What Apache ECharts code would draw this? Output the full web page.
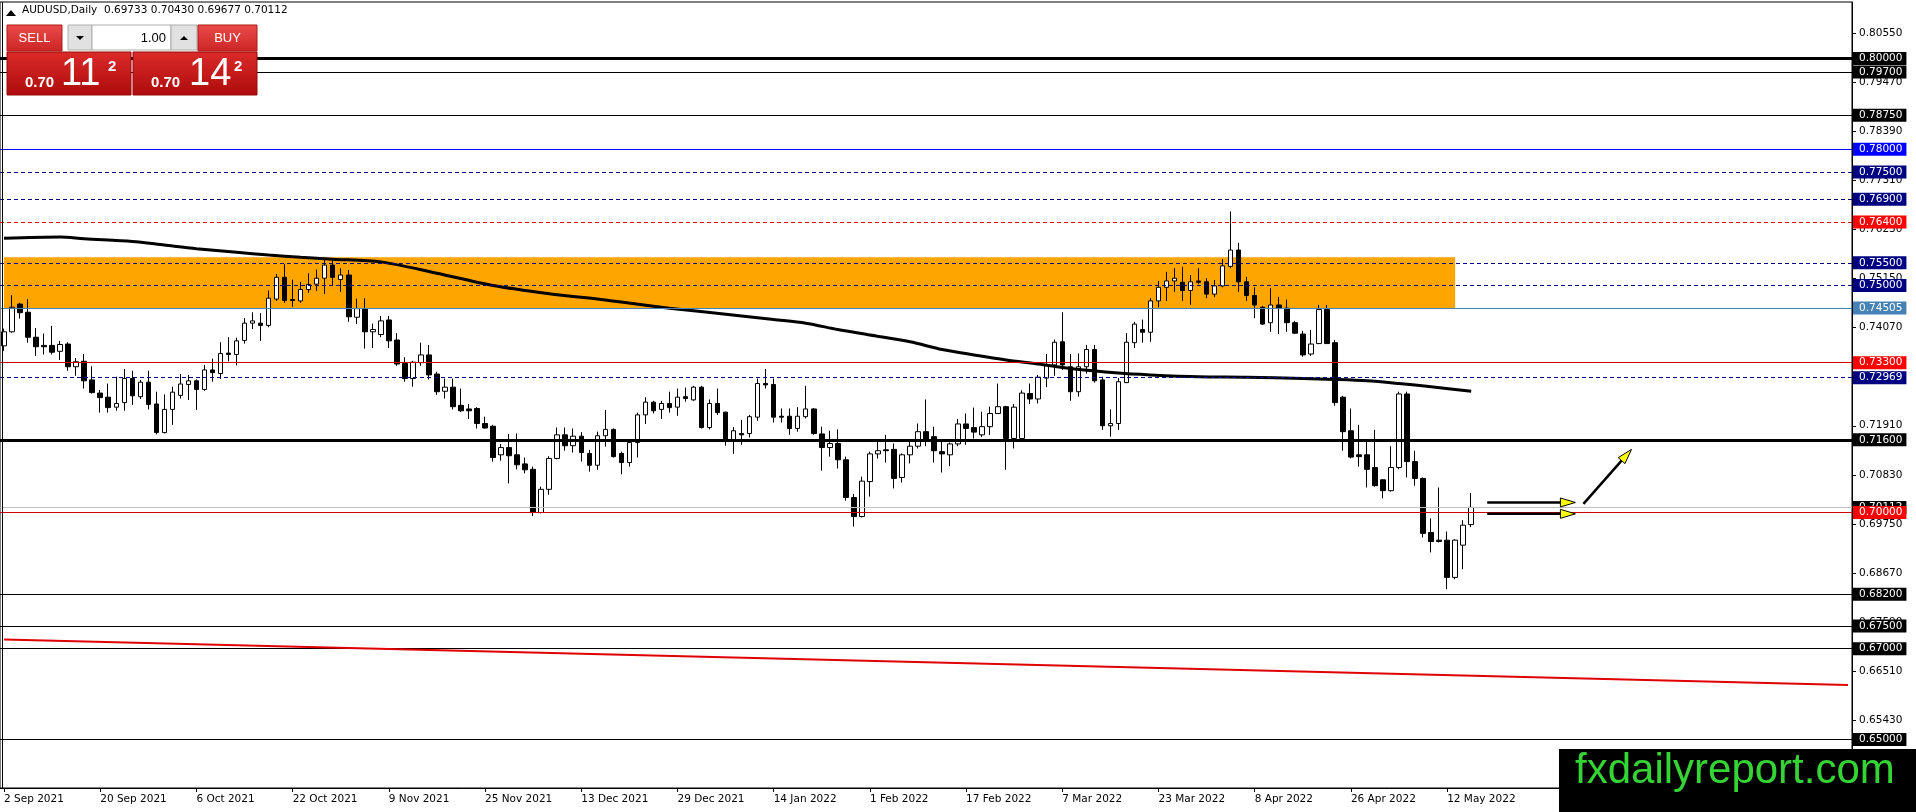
<!DOCTYPE html>
<html>
<head>
<meta charset="utf-8">
<title>AUDUSD Daily</title>
<script src="https://cdn.jsdelivr.net/npm/echarts@6/dist/echarts.min.js"></script>
<style>
  html, body { margin: 0; padding: 0; background: #fff; }
  #chart { width: 1916px; height: 812px; }
</style>
</head>
<body>
<div id="chart"></div>
<script>
// daily bars, 2 Sep 2021 .. 17 May 2022
const opens = [
  0.7367, 0.7398, 0.7459, 0.7441, 0.7386, 0.7368, 0.7368, 0.7355, 0.7371, 0.7321,
  0.7333, 0.7292, 0.7263, 0.7254, 0.7232, 0.7242, 0.7295, 0.7255, 0.7287, 0.7239,
  0.7176, 0.7227, 0.7258, 0.7282, 0.7290, 0.7271, 0.7314, 0.7306, 0.7351, 0.7348,
  0.7379, 0.7417, 0.7417, 0.7412, 0.7470, 0.7518, 0.7469, 0.7466, 0.7491, 0.7503,
  0.7516, 0.7545, 0.7513, 0.7523, 0.7430, 0.7449, 0.7398, 0.7392, 0.7424, 0.7380,
  0.7328, 0.7295, 0.7330, 0.7347, 0.7305, 0.7267, 0.7276, 0.7236, 0.7228, 0.7229,
  0.7196, 0.7190, 0.7127, 0.7143, 0.7127, 0.7107, 0.7095, 0.7000, 0.7051, 0.7119,
  0.7171, 0.7147, 0.7168, 0.7130, 0.7104, 0.7169, 0.7183, 0.7130, 0.7110, 0.7154,
  0.7215, 0.7243, 0.7227, 0.7240, 0.7232, 0.7255, 0.7248, 0.7276, 0.7187, 0.7240,
  0.7221, 0.7160, 0.7174, 0.7174, 0.7210, 0.7284, 0.7282, 0.7212, 0.7212, 0.7185,
  0.7211, 0.7228, 0.7173, 0.7143, 0.7152, 0.7116, 0.7033, 0.6991, 0.7068, 0.7129,
  0.7138, 0.7139, 0.7077, 0.7127, 0.7146, 0.7178, 0.7167, 0.7134, 0.7127, 0.7151,
  0.7195, 0.7187, 0.7171, 0.7189, 0.7218, 0.7233, 0.7163, 0.7163, 0.7262, 0.7250,
  0.7296, 0.7325, 0.7376, 0.7321, 0.7266, 0.7321, 0.7359, 0.7292, 0.7191, 0.7196,
  0.7286, 0.7374, 0.7403, 0.7397, 0.7466, 0.7496, 0.7510, 0.7507, 0.7489, 0.7510,
  0.7508, 0.7481, 0.7499, 0.7542, 0.7578, 0.7508, 0.7478, 0.7452, 0.7418, 0.7457,
  0.7450, 0.7418, 0.7393, 0.7349, 0.7372, 0.7447, 0.7374, 0.7254, 0.7180, 0.7127,
  0.7127, 0.7099, 0.7072, 0.7048, 0.7099, 0.7261, 0.7112, 0.7075, 0.6956, 0.6939,
  0.6939, 0.6857, 0.6928, 0.69733
];
const highs = [
  0.7405, 0.7479, 0.7462, 0.7470, 0.7406, 0.7394, 0.7411, 0.7378, 0.7375, 0.7340,
  0.7349, 0.7322, 0.7270, 0.7284, 0.7299, 0.7316, 0.7312, 0.7292, 0.7312, 0.7266,
  0.7260, 0.7277, 0.7305, 0.7303, 0.7293, 0.7325, 0.7339, 0.7375, 0.7386, 0.7385,
  0.7428, 0.7441, 0.7439, 0.7489, 0.7525, 0.7547, 0.7513, 0.7508, 0.7527, 0.7535,
  0.7556, 0.7556, 0.7538, 0.7534, 0.7471, 0.7472, 0.7416, 0.7433, 0.7433, 0.7395,
  0.7342, 0.7334, 0.7374, 0.7369, 0.7310, 0.7295, 0.7295, 0.7273, 0.7239, 0.7232,
  0.7211, 0.7193, 0.7151, 0.7173, 0.7174, 0.7121, 0.7101, 0.7057, 0.7124, 0.7187,
  0.7187, 0.7185, 0.7177, 0.7138, 0.7178, 0.7226, 0.7185, 0.7134, 0.7160, 0.7220,
  0.7254, 0.7246, 0.7246, 0.7266, 0.7273, 0.7275, 0.7279, 0.7279, 0.7249, 0.7273,
  0.7222, 0.7188, 0.7204, 0.7215, 0.7295, 0.7316, 0.7295, 0.7229, 0.7229, 0.7232,
  0.7279, 0.7230, 0.7189, 0.7180, 0.7183, 0.7123, 0.7041, 0.7079, 0.7134, 0.7156,
  0.7171, 0.7152, 0.7130, 0.7156, 0.7196, 0.7249, 0.7189, 0.7156, 0.7154, 0.7206,
  0.7218, 0.7231, 0.7222, 0.7233, 0.7284, 0.7235, 0.7239, 0.7269, 0.7284, 0.7303,
  0.7349, 0.7381, 0.7441, 0.7349, 0.7350, 0.7369, 0.7369, 0.7299, 0.7227, 0.7296,
  0.7395, 0.7420, 0.7425, 0.7472, 0.7510, 0.7530, 0.7538, 0.7541, 0.7523, 0.7538,
  0.7516, 0.7512, 0.7558, 0.7663, 0.7594, 0.7519, 0.7496, 0.7455, 0.7494, 0.7475,
  0.7469, 0.7422, 0.7400, 0.7402, 0.7457, 0.7457, 0.7380, 0.7257, 0.7229, 0.7193,
  0.7156, 0.7182, 0.7073, 0.7146, 0.7266, 0.7266, 0.7136, 0.7077, 0.6987, 0.7055,
  0.6958, 0.6941, 0.6983, 0.70430
];
const lows = [
  0.7356, 0.7396, 0.7427, 0.7374, 0.7345, 0.7348, 0.7348, 0.7336, 0.7312, 0.7301,
  0.7273, 0.7262, 0.7220, 0.7220, 0.7224, 0.7224, 0.7237, 0.7250, 0.7227, 0.7172,
  0.7174, 0.7193, 0.7251, 0.7248, 0.7226, 0.7268, 0.7288, 0.7294, 0.7333, 0.7324,
  0.7372, 0.7404, 0.7378, 0.7408, 0.7466, 0.7462, 0.7453, 0.7462, 0.7484, 0.7488,
  0.7481, 0.7499, 0.7486, 0.7420, 0.7415, 0.7361, 0.7362, 0.7386, 0.7362, 0.7323,
  0.7288, 0.7277, 0.7323, 0.7293, 0.7259, 0.7251, 0.7227, 0.7221, 0.7206, 0.7185,
  0.7185, 0.7112, 0.7114, 0.7064, 0.7095, 0.7086, 0.6992, 0.6998, 0.7039, 0.7117,
  0.7136, 0.7132, 0.7112, 0.7090, 0.7094, 0.7145, 0.7121, 0.7084, 0.7101, 0.7121,
  0.7195, 0.7218, 0.7206, 0.7220, 0.7213, 0.7244, 0.7246, 0.7185, 0.7183, 0.7215,
  0.7147, 0.7129, 0.7149, 0.7165, 0.7202, 0.7273, 0.7198, 0.7198, 0.7171, 0.7178,
  0.7207, 0.7171, 0.7092, 0.7123, 0.7097, 0.7026, 0.6969, 0.6989, 0.7035, 0.7119,
  0.7110, 0.7053, 0.7066, 0.7108, 0.7141, 0.7146, 0.7110, 0.7088, 0.7102, 0.7146,
  0.7149, 0.7163, 0.7166, 0.7171, 0.7217, 0.7094, 0.7141, 0.7160, 0.7239, 0.7240,
  0.7276, 0.7301, 0.7314, 0.7246, 0.7255, 0.7306, 0.7286, 0.7182, 0.7167, 0.7182,
  0.7285, 0.7362, 0.7374, 0.7376, 0.7452, 0.7466, 0.7486, 0.7466, 0.7457, 0.7503,
  0.7472, 0.7474, 0.7496, 0.7538, 0.7486, 0.7466, 0.7428, 0.7413, 0.7398, 0.7393,
  0.7398, 0.7393, 0.7343, 0.7345, 0.7371, 0.7371, 0.7235, 0.7136, 0.7119, 0.7101,
  0.7055, 0.7057, 0.7031, 0.7046, 0.7095, 0.7077, 0.7059, 0.6945, 0.6912, 0.6934,
  0.6831, 0.6853, 0.6875, 0.69677
];
const closes = [
  0.7398, 0.7452, 0.7440, 0.7386, 0.7365, 0.7365, 0.7353, 0.7370, 0.7321, 0.7332,
  0.7290, 0.7264, 0.7253, 0.7231, 0.7240, 0.7295, 0.7257, 0.7287, 0.7238, 0.7176,
  0.7227, 0.7265, 0.7283, 0.7290, 0.7271, 0.7314, 0.7308, 0.7350, 0.7348, 0.7378,
  0.7417, 0.7422, 0.7412, 0.7472, 0.7518, 0.7467, 0.7467, 0.7491, 0.7502, 0.7516,
  0.7545, 0.7518, 0.7523, 0.7431, 0.7449, 0.7398, 0.7403, 0.7422, 0.7378, 0.7327,
  0.7295, 0.7331, 0.7347, 0.7303, 0.7266, 0.7276, 0.7233, 0.7224, 0.7224, 0.7196,
  0.7186, 0.7121, 0.7143, 0.7125, 0.7105, 0.7094, 0.7000, 0.7051, 0.7119, 0.7171,
  0.7147, 0.7168, 0.7132, 0.7104, 0.7169, 0.7183, 0.7123, 0.7110, 0.7154, 0.7215,
  0.7243, 0.7224, 0.7240, 0.7231, 0.7254, 0.7251, 0.7276, 0.7187, 0.7240, 0.7220,
  0.7160, 0.7180, 0.7171, 0.7211, 0.7284, 0.7281, 0.7210, 0.7210, 0.7185, 0.7212,
  0.7228, 0.7174, 0.7143, 0.7152, 0.7116, 0.7033, 0.6991, 0.7069, 0.7129, 0.7136,
  0.7136, 0.7075, 0.7127, 0.7146, 0.7178, 0.7160, 0.7136, 0.7129, 0.7151, 0.7195,
  0.7185, 0.7177, 0.7189, 0.7218, 0.7233, 0.7163, 0.7232, 0.7263, 0.7250, 0.7298,
  0.7325, 0.7375, 0.7325, 0.7266, 0.7321, 0.7359, 0.7290, 0.7191, 0.7196, 0.7288,
  0.7375, 0.7415, 0.7397, 0.7466, 0.7496, 0.7510, 0.7516, 0.7489, 0.7508, 0.7507,
  0.7481, 0.7499, 0.7543, 0.7578, 0.7508, 0.7478, 0.7457, 0.7415, 0.7457, 0.7450,
  0.7418, 0.7395, 0.7347, 0.7371, 0.7447, 0.7372, 0.7242, 0.7178, 0.7122, 0.7123,
  0.7095, 0.7059, 0.7048, 0.7099, 0.7261, 0.7112, 0.7075, 0.6954, 0.6936, 0.6936,
  0.6857, 0.6939, 0.6972, 0.70112
];

// moving average: [bar, value]
const movingAvg = [
  [0, 0.7604], [7, 0.7607], [10, 0.7603], [16, 0.7597], [20, 0.7589], [24, 0.7581],
  [29, 0.7573], [33, 0.7567], [37, 0.7562], [41, 0.7558], [47, 0.7552], [54, 0.7527],
  [61, 0.7500], [68, 0.7482], [75, 0.7468], [83, 0.7450], [92, 0.7433], [96, 0.7425],
  [100, 0.7417], [104, 0.7403], [108, 0.7391], [113, 0.7376], [117, 0.7359], [121, 0.7347],
  [125, 0.7336], [129, 0.7327], [133, 0.7317], [139, 0.7307], [143, 0.7303], [149, 0.7299],
  [155, 0.7298], [162, 0.7295], [166, 0.7293], [170, 0.7290], [174, 0.7284], [178, 0.7277],
  [183, 0.7267]
];

const xTickLabels = [
  '2 Sep 2021', '20 Sep 2021', '6 Oct 2021', '22 Oct 2021', '9 Nov 2021', '25 Nov 2021',
  '13 Dec 2021', '29 Dec 2021', '14 Jan 2022', '1 Feb 2022', '17 Feb 2022', '7 Mar 2022',
  '23 Mar 2022', '8 Apr 2022', '26 Apr 2022', '12 May 2022'
];
const priceTicks = [
  0.80550, 0.79470, 0.78390, 0.77310, 0.76230, 0.75150, 0.74070, 0.72990,
  0.71910, 0.70830, 0.69750, 0.68670, 0.67590, 0.66510, 0.65430
];

// horizontal levels and what kind of line each one is
const levelPrices = [
  0.80000, 0.79700, 0.78750, 0.78000, 0.77500, 0.76900, 0.76400, 0.75500, 0.75000,
  0.74505, 0.73300, 0.72969, 0.71600, 0.70112, 0.70000, 0.68200, 0.67500, 0.67000, 0.65000
];
const levelKinds = [
  'thick', 'thin', 'thin', 'blue', 'navy', 'navy', 'redDash', 'navy', 'navy',
  'steel', 'red', 'navy', 'thick', 'bid', 'red', 'thin', 'thin', 'thin', 'thin'
];

const zonePrices = [0.7450, 0.7562];
const zoneBars = [0, 181];
const redTrend = [[0, 0.6720], [230, 0.6620]];
const arrows = [
  [185, 0.7022, 196, 0.7022],
  [185, 0.6997, 196, 0.6997],
  [197, 0.7019, 203, 0.7139]
];

const symbolName = 'AUDUSD,Daily';
const bid = 0.70112, ask = 0.70142, lotSize = '1.00';
const emptyBars = 47;

const kindStyle = {
  thick:   { color: '#000000', width: 3, type: 'solid', bg: '#000000' },
  thin:    { color: '#000000', width: 1, type: 'solid', bg: '#000000' },
  blue:    { color: '#0000ff', width: 1, type: 'solid', bg: '#0000ff' },
  navy:    { color: '#000080', width: 1, type: [4, 3], bg: '#000080' },
  redDash: { color: '#e00000', width: 1, type: [4, 3], bg: '#ff0000' },
  steel:   { color: '#4682b4', width: 1, type: 'solid', bg: '#4682b4' },
  red:     { color: '#d00000', width: 1, type: 'solid', bg: '#ff0000' },
  bid:     { color: '#c0c0c0', width: 1, type: 'solid', bg: '#000000' }
};

const categories = Array.from({ length: opens.length + emptyBars }, (_, i) => String(i));
const candles = opens.map((o, i) => [o, closes[i], lows[i], highs[i]]);
const last = opens.length - 1;
const fmt = v => Number(v).toFixed(5);
const headerText = symbolName + '  ' + [opens[last], highs[last], lows[last], closes[last]].map(fmt).join(' ');
const showTick = idx => idx % 12 === 0 && idx / 12 < xTickLabels.length;

const priceParts = p => { const s = fmt(p); return [s.slice(0, 4), s.slice(4, 6), s.slice(6)]; };
const bidParts = priceParts(bid), askParts = priceParts(ask);

const FONT = 'DejaVu Sans';
const redGrad = (a, b) => new echarts.graphic.LinearGradient(0, 0, 0, 1, [
  { offset: 0, color: a }, { offset: 1, color: b }
]);

const levelLines = levelPrices.map((p, i) => {
  const s = kindStyle[levelKinds[i]];
  return {
    yAxis: p,
    lineStyle: { color: s.color, width: s.width, type: s.type },
    label: { backgroundColor: s.bg }
  };
});

const chart = echarts.init(document.getElementById('chart'));

const option = {
  animation: false,
  backgroundColor: '#ffffff',
  grid: {
    left: -0.41, right: 64, top: 2, bottom: 24,
    show: true, borderColor: '#000', borderWidth: 1, backgroundColor: 'transparent'
  },
  xAxis: {
    type: 'category',
    data: categories,
    boundaryGap: true,
    axisLine: { show: true, lineStyle: { color: '#000', width: 1 } },
    axisTick: { show: true, interval: showTick, alignWithLabel: true, length: 4, lineStyle: { color: '#000' } },
    axisLabel: {
      show: true, interval: showTick, align: 'left', margin: 6,
      fontFamily: FONT, fontSize: 10.5, color: '#000',
      formatter: (v, idx) => xTickLabels[idx / 12] || ''
    },
    splitLine: { show: false }
  },
  yAxis: {
    type: 'value',
    position: 'right',
    min: 0.63931,
    max: 0.81244,
    scale: true,
    axisLine: { show: true, lineStyle: { color: '#000', width: 1 } },
    axisTick: { show: true, length: 4, lineStyle: { color: '#000' }, customValues: priceTicks },
    axisLabel: {
      show: true, margin: 7, fontFamily: FONT, fontSize: 10.5, color: '#000',
      customValues: priceTicks, formatter: v => fmt(v)
    },
    splitLine: { show: false }
  },
  series: [
    {
      name: 'AUDUSD',
      type: 'candlestick',
      data: candles,
      barWidth: 5,
      z: 2,
      itemStyle: {
        color: '#ffffff', color0: '#000000',
        borderColor: '#000000', borderColor0: '#000000', borderWidth: 1
      },
      markArea: {
        silent: true,
        z: 1,
        itemStyle: { color: '#ffa500' },
        data: [[
          { xAxis: zoneBars[0], yAxis: zonePrices[1] },
          { xAxis: zoneBars[1], yAxis: zonePrices[0] }
        ]]
      },
      markLine: {
        silent: true,
        z: 5,
        precision: 5,
        symbol: ['none', 'none'],
        label: {
          show: true, position: 'end', distance: 1,
          color: '#ffffff', fontFamily: FONT, fontSize: 10.5,
          lineHeight: 13, padding: [0, 4, 0, 6],
          formatter: p => fmt(p.value)
        },
        emphasis: { disabled: true },
        data: levelLines.concat([[
          { coord: redTrend[0], lineStyle: { color: '#e00000', width: 2, type: 'solid' }, label: { show: false } },
          { coord: redTrend[1] }
        ]])
      }
    },
    {
      name: 'MA',
      type: 'line',
      data: movingAvg,
      z: 3,
      symbol: 'none',
      smooth: 0.3,
      lineStyle: { color: '#000', width: 3 },
      silent: true
    },
    {
      name: 'arrows',
      type: 'custom',
      z: 6,
      silent: true,
      data: arrows,
      encode: { x: [0, 2], y: [1, 3] },
      renderItem: (params, api) => {
        const a = api.coord([api.value(0), api.value(1)]);
        const b = api.coord([api.value(2), api.value(3)]);
        const dx = b[0] - a[0], dy = b[1] - a[1];
        const len = Math.sqrt(dx * dx + dy * dy);
        const ux = dx / len, uy = dy / len;
        const headLen = 15, headHalf = 4.5;
        const bx = b[0] - ux * headLen, by = b[1] - uy * headLen;
        return {
          type: 'group',
          children: [
            { type: 'line', shape: { x1: a[0], y1: a[1], x2: bx + ux * 2, y2: by + uy * 2 },
              style: { stroke: '#000', lineWidth: 2.5 } },
            { type: 'polygon',
              shape: { points: [[b[0], b[1]], [bx - uy * headHalf, by + ux * headHalf], [bx + uy * headHalf, by - ux * headHalf]] },
              style: { fill: '#ffff00', stroke: '#000', lineWidth: 1 } }
          ]
        };
      }
    }
  ],
  graphic: [
    // left frame edge
    { type: 'line', z: 50, shape: { x1: 2.5, y1: 2, x2: 2.5, y2: 788 }, style: { stroke: '#000', lineWidth: 1 } },
    // header
    { type: 'polygon', z: 100, shape: { points: [[6, 16], [11, 10], [16, 16]] }, style: { fill: '#000' } },
    { type: 'text', z: 100, left: 22, top: 5, style: { text: headerText, fontFamily: FONT, fontSize: 10.5, fill: '#000' } },
    // one-click trading panel
    { type: 'rect', z: 100, shape: { x: 7, y: 25, width: 55, height: 26 }, style: { fill: redGrad('#ea4c4c', '#cc2424'), stroke: '#b01a1a', lineWidth: 1 } },
    { type: 'text', z: 101, x: 34.5, y: 38, style: { text: 'SELL', fontFamily: 'Liberation Sans', fontSize: 13, fill: '#fff', align: 'center', verticalAlign: 'middle' } },
    { type: 'rect', z: 100, shape: { x: 68, y: 25, width: 24, height: 25 }, style: { fill: '#e1e1e1', stroke: '#adadad', lineWidth: 1 } },
    { type: 'polygon', z: 101, shape: { points: [[76, 36], [84, 36], [80, 40]] }, style: { fill: '#000' } },
    { type: 'rect', z: 100, shape: { x: 92, y: 25, width: 79, height: 25 }, style: { fill: '#fff', stroke: '#adadad', lineWidth: 1 } },
    { type: 'text', z: 101, x: 166, y: 38, style: { text: lotSize, fontFamily: 'Liberation Sans', fontSize: 13, fill: '#000', align: 'right', verticalAlign: 'middle' } },
    { type: 'rect', z: 100, shape: { x: 171, y: 25, width: 26, height: 25 }, style: { fill: '#e1e1e1', stroke: '#adadad', lineWidth: 1 } },
    { type: 'polygon', z: 101, shape: { points: [[180, 40], [188, 40], [184, 36]] }, style: { fill: '#000' } },
    { type: 'rect', z: 100, shape: { x: 198, y: 25, width: 59, height: 26 }, style: { fill: redGrad('#ea4c4c', '#cc2424'), stroke: '#b01a1a', lineWidth: 1 } },
    { type: 'text', z: 101, x: 227.5, y: 38, style: { text: 'BUY', fontFamily: 'Liberation Sans', fontSize: 13, fill: '#fff', align: 'center', verticalAlign: 'middle' } },
    { type: 'rect', z: 100, shape: { x: 7, y: 52, width: 124, height: 43 }, style: { fill: redGrad('#dc2a2a', '#ad0c0c'), stroke: '#9a0a0a', lineWidth: 1 } },
    { type: 'text', z: 101, x: 25, y: 83, style: { text: bidParts[0], fontFamily: 'Liberation Sans', fontWeight: 'bold', fontSize: 15, fill: '#fff', verticalAlign: 'middle' } },
    { type: 'text', z: 101, x: 61, y: 75, style: { text: bidParts[1], fontFamily: 'Liberation Sans', fontSize: 38, fill: '#fff', verticalAlign: 'middle' } },
    { type: 'text', z: 101, x: 108, y: 67, style: { text: bidParts[2], fontFamily: 'Liberation Sans', fontWeight: 'bold', fontSize: 15, fill: '#fff', verticalAlign: 'middle' } },
    { type: 'rect', z: 100, shape: { x: 133, y: 52, width: 124, height: 43 }, style: { fill: redGrad('#dc2a2a', '#ad0c0c'), stroke: '#9a0a0a', lineWidth: 1 } },
    { type: 'text', z: 101, x: 151, y: 83, style: { text: askParts[0], fontFamily: 'Liberation Sans', fontWeight: 'bold', fontSize: 15, fill: '#fff', verticalAlign: 'middle' } },
    { type: 'text', z: 101, x: 189, y: 75, style: { text: askParts[1], fontFamily: 'Liberation Sans', fontSize: 38, fill: '#fff', verticalAlign: 'middle' } },
    { type: 'text', z: 101, x: 234, y: 67, style: { text: askParts[2], fontFamily: 'Liberation Sans', fontWeight: 'bold', fontSize: 15, fill: '#fff', verticalAlign: 'middle' } },
    // watermark
    { type: 'rect', z: 200, shape: { x: 1559, y: 749, width: 357, height: 63 }, style: { fill: '#000' } },
    { type: 'text', z: 201, x: 1575, y: 771, style: { text: 'fxdailyreport.com', fontFamily: 'Liberation Sans', fontSize: 42, fill: '#35d435', verticalAlign: 'middle' } }
  ]
};

chart.setOption(option);
</script>
</body>
</html>
